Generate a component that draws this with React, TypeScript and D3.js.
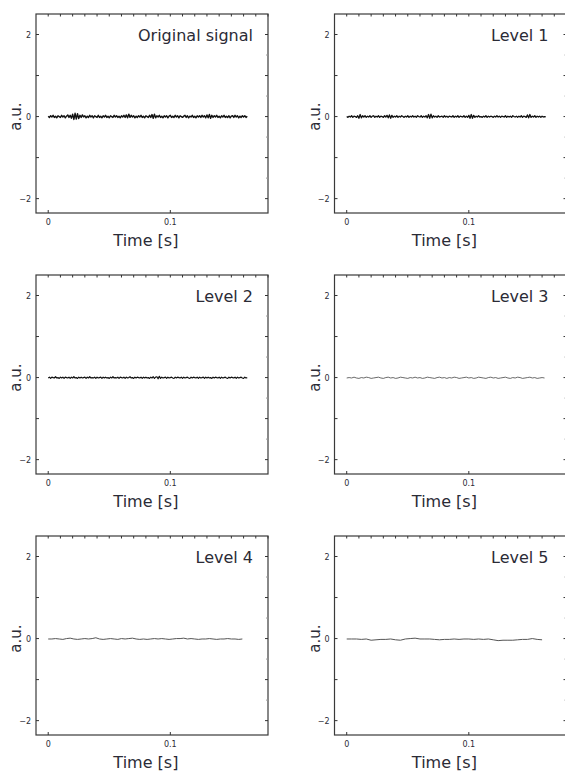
import React from 'react'
import * as d3 from 'd3'

// panel titles, in reading order
const titles = ['Original signal', 'Level 1', 'Level 2', 'Level 3', 'Level 4', 'Level 5']

// sampling step (s) of every trace
const steps = [0.001, 0.001, 0.001, 0.002, 0.003, 0.004]

// amplitudes (a.u.)
const original = [
  0.01, -0.02, 0.02, -0.01, 0.03, -0.02, 0.01, -0.03, 0.02, 0.0,
  -0.02, 0.03, -0.01, 0.02, -0.03, 0.01, 0.04, -0.02, 0.03, -0.04,
  0.06, -0.07, 0.08, -0.06, 0.07, -0.05, 0.03, -0.02, 0.04, -0.01,
  0.02, -0.03, 0.01, -0.02, 0.03, -0.01, 0.02, -0.03, 0.02, 0.0,
  -0.02, 0.03, -0.02, 0.01, -0.03, 0.02, -0.01, 0.03, -0.02, 0.01,
  -0.03, 0.02, 0.0, -0.02, 0.03, -0.01, 0.02, -0.02, 0.01, -0.03,
  0.02, -0.01, 0.03, -0.02, 0.04, -0.03, 0.06, -0.02, 0.03, -0.01,
  0.02, -0.03, 0.01, -0.02, 0.02, -0.01, 0.03, -0.02, 0.01, -0.03,
  0.02, 0.0, -0.02, 0.03, -0.02, 0.05, -0.04, 0.06, -0.03, 0.02,
  -0.01, 0.03, -0.02, 0.01, -0.03, 0.02, -0.01, 0.02, -0.03, 0.01,
  0.03, -0.02, 0.01, -0.02, 0.03, -0.01, 0.02, -0.03, 0.02, 0.0,
  -0.02, 0.01, 0.03, -0.02, 0.02, -0.03, 0.01, -0.01, 0.03, -0.02,
  0.01, -0.03, 0.02, -0.01, 0.02, -0.02, 0.03, -0.01, 0.02, -0.03,
  0.04, -0.03, 0.05, -0.04, 0.03, -0.02, 0.02, -0.01, 0.03, -0.02,
  0.01, -0.03, 0.02, -0.01, 0.03, -0.02, 0.01, -0.02, 0.02, -0.03,
  0.01, 0.02, -0.02, 0.03, -0.01, 0.02, -0.03, 0.01, -0.02, 0.02,
  -0.01, 0.02, -0.02, 0.01,
]

const level1 = [
  0.0, -0.02, 0.01, -0.01, 0.02, -0.02, 0.01, 0.0, -0.02, 0.02,
  -0.04, 0.05, -0.03, 0.02, -0.01, 0.02, -0.02, 0.01, -0.01, 0.02,
  -0.02, 0.01, 0.02, -0.02, 0.01, -0.01, 0.02, -0.02, 0.01, 0.0,
  -0.02, 0.02, -0.01, 0.03, -0.03, 0.04, -0.04, 0.03, -0.02, 0.01,
  -0.01, 0.02, -0.02, 0.01, -0.01, 0.02, 0.0, -0.02, 0.01, -0.01,
  0.02, -0.02, 0.01, -0.01, 0.02, -0.01, 0.01, -0.02, 0.02, 0.0,
  -0.01, 0.02, -0.02, 0.01, -0.01, 0.02, -0.03, 0.05, -0.04, 0.06,
  -0.03, 0.02, -0.01, 0.01, -0.02, 0.02, -0.01, 0.0, 0.01, -0.02,
  0.02, -0.01, 0.01, -0.02, 0.01, 0.0, -0.01, 0.02, -0.02, 0.01,
  -0.01, 0.02, -0.02, 0.01, 0.0, -0.01, 0.02, -0.02, 0.01, -0.02,
  0.03, -0.04, 0.05, -0.04, 0.03, -0.02, 0.01, -0.01, 0.02, -0.01,
  0.0, -0.02, 0.01, -0.01, 0.02, -0.02, 0.01, -0.01, 0.01, 0.0,
  -0.02, 0.01, -0.01, 0.02, -0.01, 0.01, -0.02, 0.01, 0.0, -0.01,
  0.02, -0.02, 0.01, -0.01, 0.01, -0.02, 0.02, 0.0, -0.01, 0.01,
  -0.02, 0.01, -0.01, 0.02, -0.02, 0.01, 0.0, -0.02, 0.04, -0.03,
  0.05, -0.02, 0.01, -0.01, 0.02, -0.02, 0.01, -0.01, 0.01, -0.02,
  0.01, -0.01, 0.0, -0.01,
]

const level2 = [
  -0.01, 0.01, -0.02, 0.01, 0.0, -0.01, 0.02, -0.01, 0.0, -0.02,
  0.01, -0.01, 0.01, -0.02, 0.01, 0.0, -0.01, 0.01, -0.02, 0.01,
  -0.01, 0.02, -0.01, 0.0, -0.02, 0.01, -0.01, 0.01, -0.01, 0.0,
  0.01, -0.02, 0.01, -0.01, 0.02, -0.01, 0.0, -0.01, 0.01, -0.02,
  0.01, -0.01, 0.0, 0.01, -0.02, 0.01, -0.01, 0.01, -0.01, 0.0,
  -0.02, 0.01, -0.01, 0.02, -0.01, 0.0, -0.01, 0.01, -0.02, 0.01,
  0.0, -0.01, 0.01, -0.02, 0.01, -0.01, 0.0, 0.02, -0.01, 0.0,
  -0.02, 0.01, -0.01, 0.01, 0.0, -0.01, 0.01, -0.02, 0.01, -0.01,
  0.01, -0.01, 0.0, -0.02, 0.01, -0.01, 0.02, -0.02, 0.01, 0.02,
  -0.03, 0.03, -0.02, 0.01, -0.01, 0.0, 0.01, -0.02, 0.01, -0.01,
  0.0, 0.01, -0.01, -0.02, 0.01, -0.01, 0.01, 0.0, -0.01, 0.01,
  -0.02, 0.01, -0.01, 0.0, 0.01, -0.01, -0.02, 0.01, -0.01, 0.01,
  0.0, -0.01, 0.01, -0.02, 0.01, -0.01, 0.0, 0.01, -0.02, 0.01,
  -0.01, 0.01, -0.01, 0.0, -0.02, 0.01, -0.01, 0.01, 0.0, -0.01,
  0.01, -0.02, 0.01, -0.01, 0.0, 0.01, -0.01, -0.02, 0.01, -0.01,
  0.01, 0.0, -0.01, 0.01, -0.02, 0.01, -0.01, 0.0, 0.01, -0.01,
  -0.02, 0.01, -0.01, 0.0,
]

const level3 = [
  -0.01, 0.0, -0.01, 0.01, -0.01, -0.02, 0.0, -0.01, 0.01, 0.0,
  -0.02, -0.01, 0.0, 0.01, -0.01, -0.02, 0.0, 0.01, -0.01, 0.0,
  -0.02, -0.01, 0.01, 0.0, -0.01, -0.02, 0.0, -0.01, 0.01, -0.01,
  0.0, -0.02, -0.01, 0.01, 0.0, -0.01, -0.02, 0.0, 0.01, -0.01,
  0.0, -0.02, 0.0, -0.01, 0.01, 0.0, -0.02, -0.01, 0.0, 0.01,
  -0.01, 0.0, -0.02, -0.01, 0.01, 0.0, -0.01, -0.02, 0.0, 0.01,
  -0.01, 0.0, -0.02, -0.01, 0.0, 0.01, -0.01, -0.02, 0.0, -0.01,
  0.01, 0.0, -0.02, -0.01, 0.0, 0.01, -0.01, 0.0, -0.02, -0.01,
  0.0, -0.01,
]

const level4 = [
  -0.01, -0.01, 0.0, -0.01, -0.02, 0.0, 0.01, -0.01, -0.02, -0.01,
  0.0, -0.01, 0.0, 0.02, -0.01, -0.02, -0.01, 0.0, -0.01, -0.02,
  0.0, -0.01, 0.0, 0.01, -0.01, -0.02, -0.01, -0.02, -0.01, 0.0,
  -0.01, 0.0, -0.01, -0.02, -0.01, 0.0, 0.0, 0.01, -0.01, 0.0,
  -0.01, -0.02, -0.01, -0.01, 0.0, -0.01, -0.02, -0.01, -0.01, 0.0,
  -0.01, -0.01, -0.02, -0.01,
]

const level5 = [
  -0.01, -0.01, -0.01, -0.02, -0.01, -0.04, -0.03, -0.02, -0.02, -0.01,
  -0.03, -0.04, -0.01, 0.0, 0.01, -0.01, -0.01, -0.01, -0.02, -0.03,
  -0.02, -0.02, -0.01, -0.02, -0.01, -0.01, -0.02, -0.01, -0.02, -0.01,
  -0.03, -0.05, -0.04, -0.04, -0.04, -0.03, -0.02, -0.02, 0.0, -0.02,
  -0.03,
]

const series = [original, level1, level2, level3, level4, level5]
const lineColors = ['#111', '#111', '#111', '#444', '#555', '#555']
const lineWidths = [1.4, 1.3, 1.2, 0.8, 1, 1]

// axis ticks
const yLabelTicks = [-2, 0, 2]
const yLeftTicks = [-2, -1, 0, 1, 2]
const yRightTicks = d3.range(-2, 2.01, 0.5)
const xLabelTicks = [0, 0.1]
const xTopTicks = d3.range(0, 0.1801, 0.01)

const ink = '#2b2b36'
const font = 'DejaVu Sans, Verdana, sans-serif'

const colX = [36, 334.5]
const titleInset = [15, 18]
const rowY = [14, 275, 536]
const pw = 232
const ph = 199

function Panel({ idx }: { idx: number }) {
  const col = idx % 2
  const x0 = colX[col]
  const y0 = rowY[Math.floor(idx / 2)]
  const x = d3.scaleLinear().domain([-0.01, 0.18]).range([x0, x0 + pw])
  const y = d3.scaleLinear().domain([-2.35, 2.5]).range([y0 + ph, y0])
  const vals = series[idx]
  const step = steps[idx]
  const line = d3
    .line<number>()
    .x((_, i) => x(i * step))
    .y((d) => y(d))
  const fmt = (v: number) => (v < 0 ? '\u2212' + Math.abs(v) : String(v))
  return (
    <g>
      <path d={line(vals) || ''} fill="none" stroke={lineColors[idx]} strokeWidth={lineWidths[idx]} strokeLinejoin="round" />
      <rect x={x0} y={y0} width={pw} height={ph} fill="none" stroke="#3a3a3a" strokeWidth={1.2} />
      {xTopTicks.map((t) => (
        <line key={'t' + t} x1={x(t)} x2={x(t)} y1={y0} y2={y0 + 2.5} stroke="#333" strokeWidth={1} />
      ))}
      {xLabelTicks.map((t) => (
        <g key={'b' + t}>
          <line x1={x(t)} x2={x(t)} y1={y0 + ph} y2={y0 + ph - 3} stroke="#333" strokeWidth={1} />
          <text x={x(t)} y={y0 + ph + 12} textAnchor="middle" fontSize={8} fill={ink} fontFamily={font}>
            {t}
          </text>
        </g>
      ))}
      {yLeftTicks.map((t) => (
        <line key={'l' + t} x1={x0} x2={x0 + 3} y1={y(t)} y2={y(t)} stroke="#333" strokeWidth={1} />
      ))}
      {yRightTicks.map((t) => (
        <line
          key={'r' + t}
          x1={x0 + pw}
          x2={x0 + pw - (Number.isInteger(t) ? 3 : 2)}
          y1={y(t)}
          y2={y(t)}
          stroke={Number.isInteger(t) ? '#333' : '#999'}
          strokeWidth={1}
        />
      ))}
      {yLabelTicks.map((t) => (
        <text key={'yl' + t} x={x0 - 5} y={y(t) + 3} textAnchor="end" fontSize={8} fill={ink} fontFamily={font}>
          {fmt(t)}
        </text>
      ))}
      <text x={x0 + pw - titleInset[col]} y={y0 + 27} textAnchor="end" fontSize={16} fill={ink} fontFamily={font}>
        {titles[idx]}
      </text>
      <text x={x(0.08)} y={y0 + ph + 33} textAnchor="middle" fontSize={16} fill={ink} fontFamily={font}>
        Time [s]
      </text>
      <text
        transform={`translate(${x0 - 15},${y(0)}) rotate(-90)`}
        textAnchor="middle"
        fontSize={15}
        fill={ink}
        fontFamily={font}
      >
        a.u.
      </text>
    </g>
  )
}

export default function App() {
  return (
    <svg width={565} height={778} style={{ position: 'absolute', left: 0, top: 0, background: '#fff' }}>
      {titles.map((_, i) => (
        <Panel key={i} idx={i} />
      ))}
    </svg>
  )
}
